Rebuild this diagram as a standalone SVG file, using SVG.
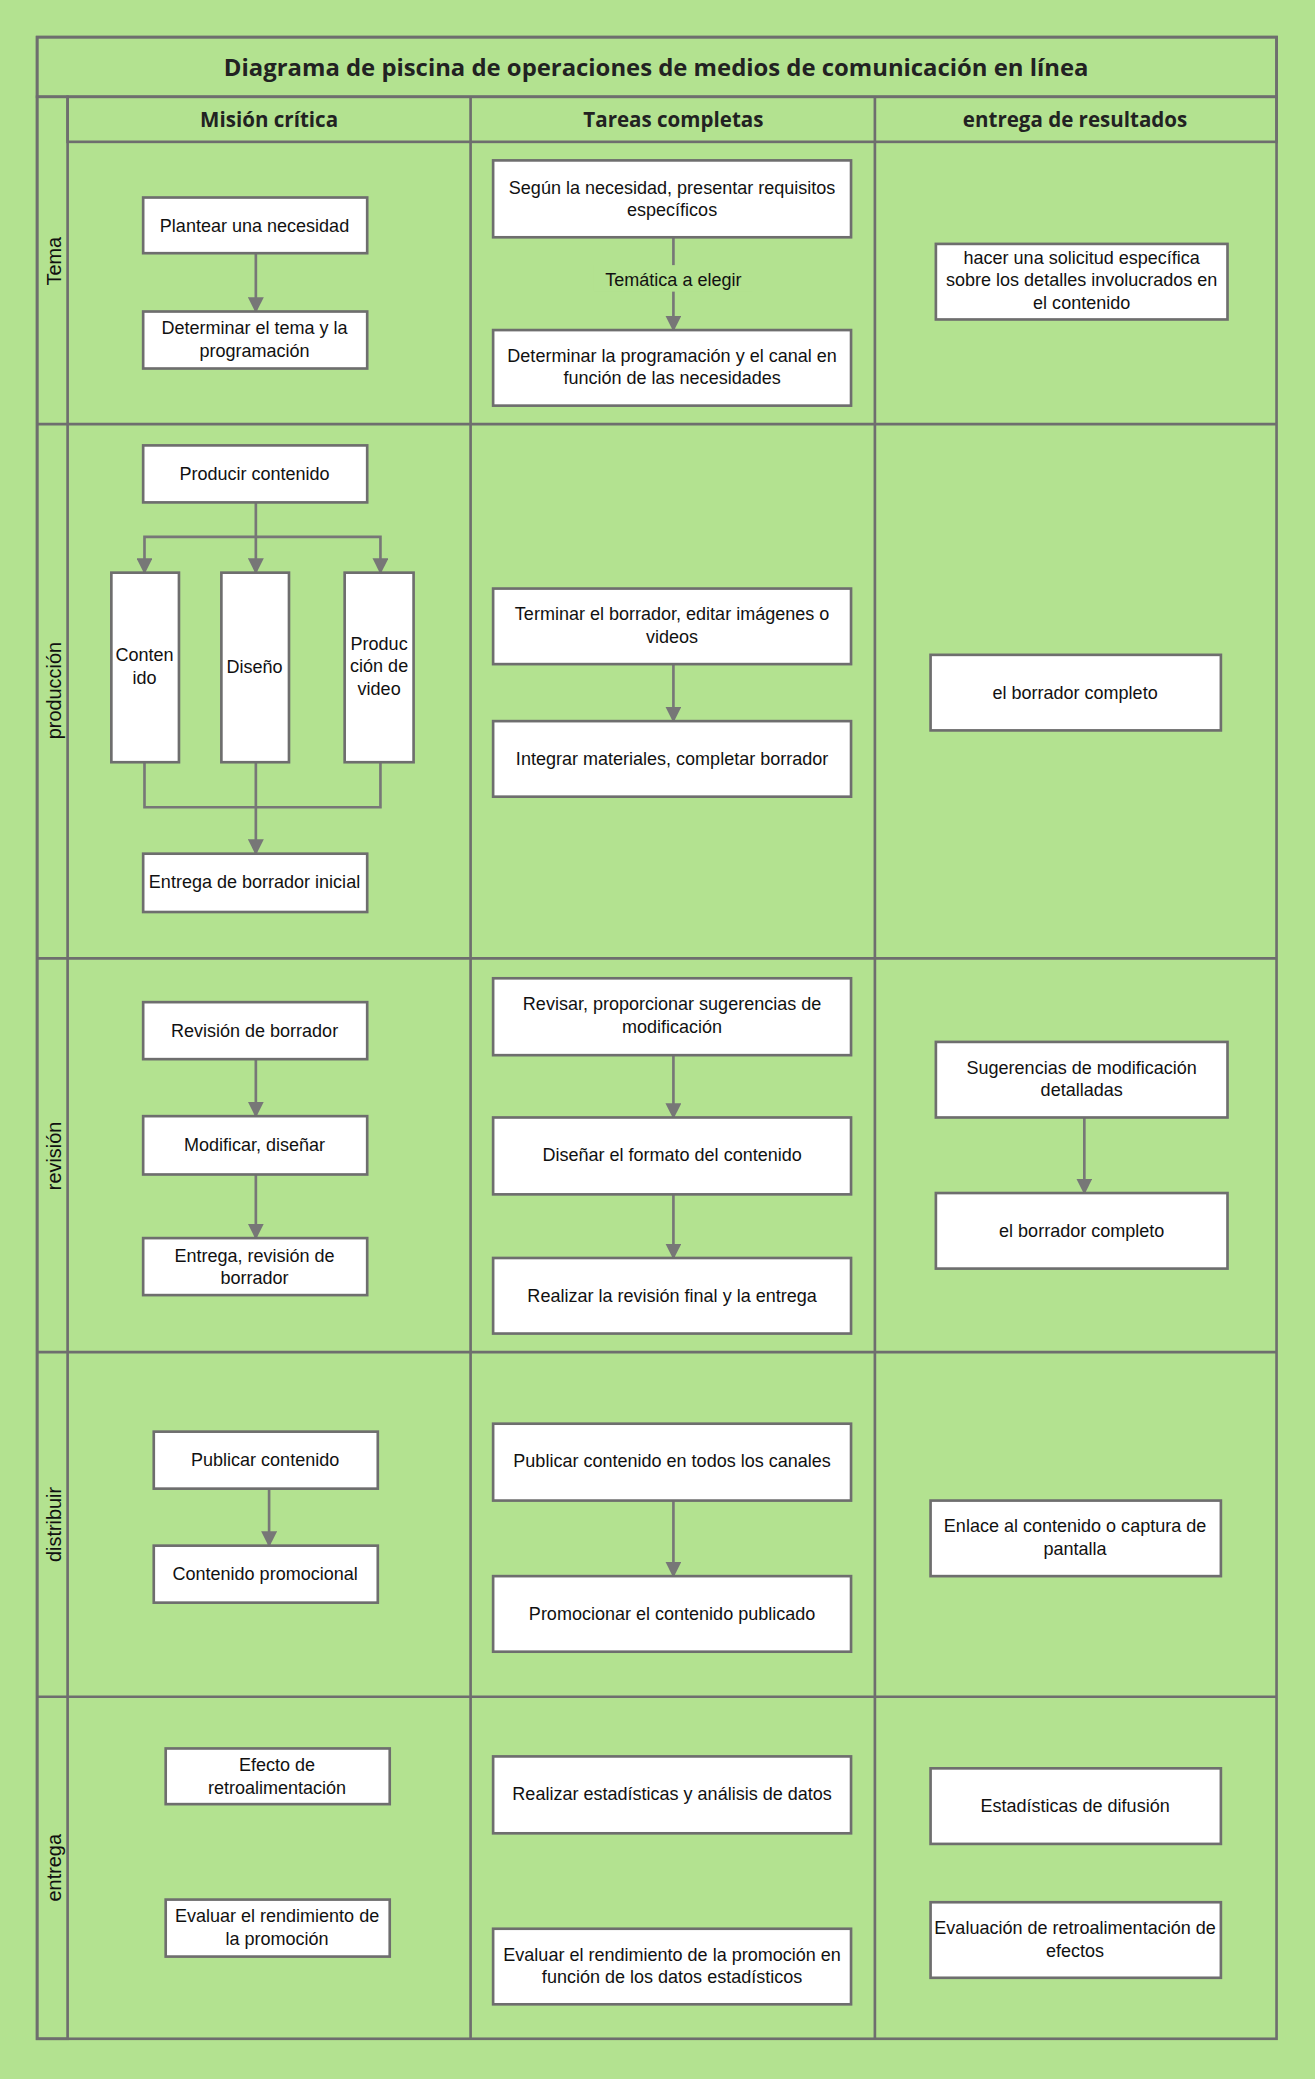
<svg xmlns="http://www.w3.org/2000/svg" width="1315" height="2079" viewBox="0 0 1315 2079">
<style>
.ln{stroke:#6e6e6e;stroke-width:2;fill:none}
.nd{fill:#fff;stroke:#6e6e6e;stroke-width:2}
.t{font-family:"Liberation Sans",Arial,sans-serif;font-size:13.6px;fill:#111;text-anchor:middle}
.h{font-family:"Open Sans","Liberation Sans",sans-serif;font-weight:bold;font-size:15.5px;fill:#222;text-anchor:middle}
.c{stroke:#777;stroke-width:2;fill:none}
</style>
<defs><marker id="a" viewBox="0 0 10 10" refX="9" refY="5" markerWidth="6" markerHeight="6" orient="auto"><path d="M0,0L10,5L0,10z" fill="#777"/></marker></defs>
<rect width="1315" height="2079" fill="#b3e290"/>
<g transform="scale(1.32560)">
<g id="frame">
<rect x="28" y="28" width="935" height="1510" fill="#b3e290" class="ln"/>
<rect x="28" y="28" width="935" height="45" fill="#7ccf46" class="ln"/>
<text x="495" y="57" class="h" style="font-size:18px">Diagrama de piscina de operaciones de medios de comunicación en línea</text>
<rect x="51" y="73" width="912" height="34" fill="#93d766" class="ln"/>
<rect x="28" y="73" width="23" height="1465" fill="#fff" class="ln"/>
<text x="203" y="96" class="h">Misión crítica</text>
<text x="508" y="96" class="h">Tareas completas</text>
<text x="811" y="96" class="h">entrega de resultados</text>
<path class="ln" d="M355,73V1538M660,73V1538M28,320H963M28,723H963M28,1020H963M28,1280H963"/>
<g class="t" style="font-size:15px">
<text transform="translate(46,197) rotate(-90)">Tema</text>
<text transform="translate(46,521) rotate(-90)">producción</text>
<text transform="translate(46,872) rotate(-90)">revisión</text>
<text transform="translate(46,1150) rotate(-90)">distribuir</text>
<text transform="translate(46,1409) rotate(-90)">entrega</text>
</g>
</g>
<g id="connectors">
<path class="c" d="M193,191V235" marker-end="url(#a)"/>
<path class="c" d="M508,179V249" marker-end="url(#a)"/>
<rect x="448" y="200" width="120" height="20" fill="#b3e290"/>
<text x="508" y="216" class="t">Temática a elegir</text>
<path class="c" d="M193,379V432" marker-end="url(#a)"/>
<path class="c" d="M193,405H109V432" marker-end="url(#a)"/>
<path class="c" d="M193,405H287V432" marker-end="url(#a)"/>
<path class="c" d="M109,575V609H287V575M193,575V644" marker-end="url(#a)"/>
<path class="c" d="M508,501V544" marker-end="url(#a)"/>
<path class="c" d="M193,799V842" marker-end="url(#a)"/>
<path class="c" d="M193,886V934" marker-end="url(#a)"/>
<path class="c" d="M508,796V843" marker-end="url(#a)"/>
<path class="c" d="M508,901V949" marker-end="url(#a)"/>
<path class="c" d="M818,843V900" marker-end="url(#a)"/>
<path class="c" d="M203,1123V1166" marker-end="url(#a)"/>
<path class="c" d="M508,1132V1189" marker-end="url(#a)"/>
</g>
<g id="n1"><rect class="nd" x="108" y="149" width="169" height="42"/><text class="t" x="192" y="175">Plantear una necesidad</text></g>
<g id="n2"><rect class="nd" x="108" y="235" width="169" height="43"/><text class="t" x="192" y="252">Determinar el tema y la</text><text class="t" x="192" y="269">programación</text></g>
<g id="n3"><rect class="nd" x="372" y="121" width="270" height="58"/><text class="t" x="507" y="146">Según la necesidad, presentar requisitos</text><text class="t" x="507" y="163">específicos</text></g>
<g id="n4"><rect class="nd" x="372" y="249" width="270" height="57"/><text class="t" x="507" y="273">Determinar la programación y el canal en</text><text class="t" x="507" y="290">función de las necesidades</text></g>
<g id="n5"><rect class="nd" x="706" y="184" width="220" height="57"/><text class="t" x="816" y="199">hacer una solicitud específica</text><text class="t" x="816" y="216">sobre los detalles involucrados en</text><text class="t" x="816" y="233">el contenido</text></g>
<g id="n6"><rect class="nd" x="108" y="336" width="169" height="43"/><text class="t" x="192" y="362">Producir contenido</text></g>
<g id="n7"><rect class="nd" x="84" y="432" width="51" height="143"/><text class="t" x="109" y="499">Conten</text><text class="t" x="109" y="516">ido</text></g>
<g id="n8"><rect class="nd" x="167" y="432" width="51" height="143"/><text class="t" x="192" y="508">Diseño</text></g>
<g id="n9"><rect class="nd" x="260" y="432" width="52" height="143"/><text class="t" x="286" y="490">Produc</text><text class="t" x="286" y="507">ción de</text><text class="t" x="286" y="524">video</text></g>
<g id="n10"><rect class="nd" x="108" y="644" width="169" height="44"/><text class="t" x="192" y="670">Entrega de borrador inicial</text></g>
<g id="n11"><rect class="nd" x="372" y="444" width="270" height="57"/><text class="t" x="507" y="468">Terminar el borrador, editar imágenes o</text><text class="t" x="507" y="485">videos</text></g>
<g id="n12"><rect class="nd" x="372" y="544" width="270" height="57"/><text class="t" x="507" y="577">Integrar materiales, completar borrador</text></g>
<g id="n13"><rect class="nd" x="702" y="494" width="219" height="57"/><text class="t" x="811" y="527">el borrador completo</text></g>
<g id="n14"><rect class="nd" x="108" y="756" width="169" height="43"/><text class="t" x="192" y="782">Revisión de borrador</text></g>
<g id="n15"><rect class="nd" x="108" y="842" width="169" height="44"/><text class="t" x="192" y="868">Modificar, diseñar</text></g>
<g id="n16"><rect class="nd" x="108" y="934" width="169" height="43"/><text class="t" x="192" y="952">Entrega, revisión de</text><text class="t" x="192" y="969">borrador</text></g>
<g id="n17"><rect class="nd" x="372" y="738" width="270" height="58"/><text class="t" x="507" y="762">Revisar, proporcionar sugerencias de</text><text class="t" x="507" y="779">modificación</text></g>
<g id="n18"><rect class="nd" x="372" y="843" width="270" height="58"/><text class="t" x="507" y="876">Diseñar el formato del contenido</text></g>
<g id="n19"><rect class="nd" x="372" y="949" width="270" height="57"/><text class="t" x="507" y="982">Realizar la revisión final y la entrega</text></g>
<g id="n20"><rect class="nd" x="706" y="786" width="220" height="57"/><text class="t" x="816" y="810">Sugerencias de modificación</text><text class="t" x="816" y="827">detalladas</text></g>
<g id="n21"><rect class="nd" x="706" y="900" width="220" height="57"/><text class="t" x="816" y="933">el borrador completo</text></g>
<g id="n22"><rect class="nd" x="116" y="1080" width="169" height="43"/><text class="t" x="200" y="1106">Publicar contenido</text></g>
<g id="n23"><rect class="nd" x="116" y="1166" width="169" height="43"/><text class="t" x="200" y="1192">Contenido promocional</text></g>
<g id="n24"><rect class="nd" x="372" y="1074" width="270" height="58"/><text class="t" x="507" y="1107">Publicar contenido en todos los canales</text></g>
<g id="n25"><rect class="nd" x="372" y="1189" width="270" height="57"/><text class="t" x="507" y="1222">Promocionar el contenido publicado</text></g>
<g id="n26"><rect class="nd" x="702" y="1132" width="219" height="57"/><text class="t" x="811" y="1156">Enlace al contenido o captura de</text><text class="t" x="811" y="1173">pantalla</text></g>
<g id="n27"><rect class="nd" x="125" y="1319" width="169" height="42"/><text class="t" x="209" y="1336">Efecto de</text><text class="t" x="209" y="1353">retroalimentación</text></g>
<g id="n28"><rect class="nd" x="125" y="1433" width="169" height="43"/><text class="t" x="209" y="1450">Evaluar el rendimiento de</text><text class="t" x="209" y="1467">la promoción</text></g>
<g id="n29"><rect class="nd" x="372" y="1325" width="270" height="58"/><text class="t" x="507" y="1358">Realizar estadísticas y análisis de datos</text></g>
<g id="n30"><rect class="nd" x="372" y="1455" width="270" height="57"/><text class="t" x="507" y="1479">Evaluar el rendimiento de la promoción en</text><text class="t" x="507" y="1496">función de los datos estadísticos</text></g>
<g id="n31"><rect class="nd" x="702" y="1334" width="219" height="57"/><text class="t" x="811" y="1367">Estadísticas de difusión</text></g>
<g id="n32"><rect class="nd" x="702" y="1435" width="219" height="57"/><text class="t" x="811" y="1459">Evaluación de retroalimentación de</text><text class="t" x="811" y="1476">efectos</text></g>
</g>
</svg>
